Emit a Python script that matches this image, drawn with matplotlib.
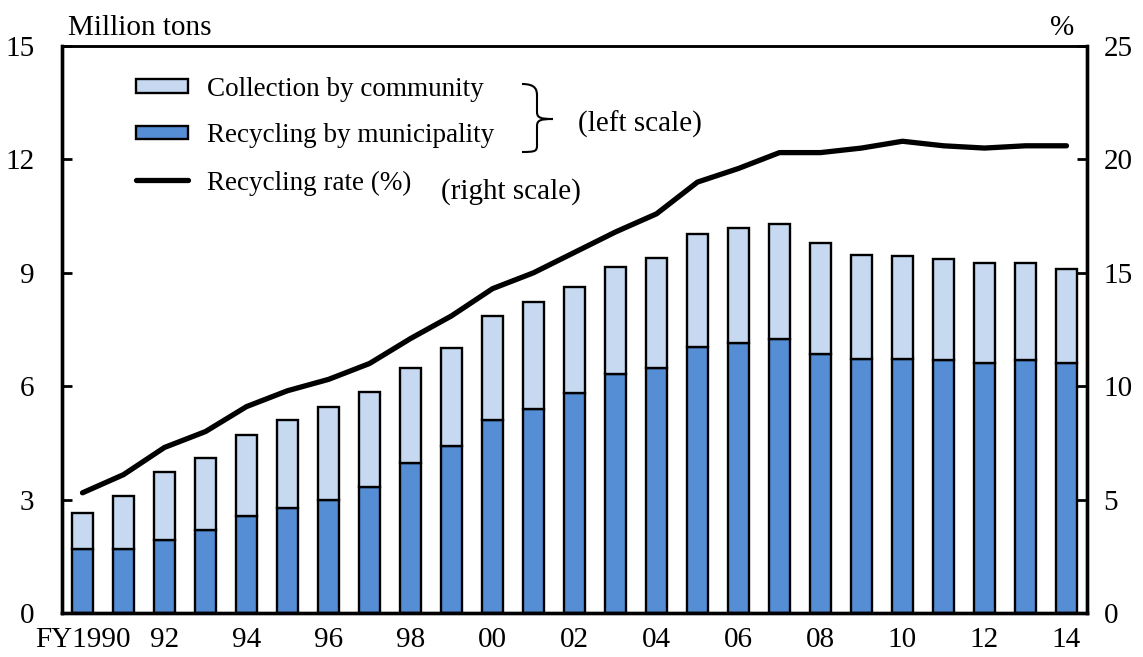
import matplotlib
matplotlib.use("Agg")
import matplotlib.pyplot as plt
from matplotlib.patches import Rectangle, PathPatch
from matplotlib.lines import Line2D
from matplotlib.path import Path

plt.rcParams['font.family'] = ['Liberation Serif', 'DejaVu Serif']

years = list(range(1990, 2015))
tick_labels = ["FY1990", "92", "94", "96", "98", "00", "02", "04",
               "06", "08", "10", "12", "14"]

# Million tons (left scale)
municipality = [1.69, 1.69, 1.93, 2.20, 2.57, 2.78, 2.99, 3.33, 3.97, 4.42,
                5.10, 5.40, 5.82, 6.32, 6.48, 7.04, 7.14, 7.25, 6.85, 6.72,
                6.72, 6.69, 6.61, 6.69, 6.61]
total = [2.65, 3.10, 3.73, 4.10, 4.71, 5.10, 5.45, 5.85, 6.48, 7.01,
         7.86, 8.23, 8.62, 9.15, 9.39, 10.03, 10.19, 10.29, 9.79, 9.47,
         9.44, 9.37, 9.26, 9.26, 9.10]
community = [t - m for t, m in zip(total, municipality)]

# Recycling rate, % (right scale)
rate = [5.3, 6.1, 7.3, 8.0, 9.1, 9.8, 10.3, 11.0, 12.1, 13.1,
        14.3, 15.0, 15.9, 16.8, 17.6, 19.0, 19.6, 20.3, 20.3, 20.5,
        20.8, 20.6, 20.5, 20.6, 20.6]

series_labels = ["Collection by community", "Recycling by municipality",
                 "Recycling rate (%)"]

LIGHT = "#C6D9F0"
BLUE = "#558ED5"
FS = 21
LEG_FS = 19.5
EDGE_W = 1.7
LINE_W = 3.8

fig = plt.figure(figsize=(11.43, 6.57), dpi=100)
ax = fig.add_axes([62 / 1143, 1 - 613 / 657, 1025 / 1143, 567 / 657])
x = list(range(len(years)))

ax.bar(x, municipality, width=0.5, color=BLUE, edgecolor="black",
       linewidth=EDGE_W, zorder=2)
ax.bar(x, community, bottom=municipality, width=0.5, color=LIGHT,
       edgecolor="black", linewidth=EDGE_W, zorder=2)

ax.set_xlim(-0.5, len(years) - 0.5)
ax.set_ylim(0, 15)
ax.set_yticks([0, 3, 6, 9, 12, 15])
ax.set_xticks(x[::2])
ax.set_xticklabels(tick_labels)
ax.tick_params(axis="x", length=0, pad=10, labelsize=FS)
ax.tick_params(axis="y", direction="in", length=7, width=2, pad=20, labelsize=FS)

ax2 = ax.twinx()
ax2.plot(x, rate, color="black", linewidth=LINE_W, solid_capstyle="round", zorder=3)
ax2.set_ylim(0, 25)
ax2.set_yticks([0, 5, 10, 15, 20, 25])
ax2.tick_params(axis="y", direction="in", length=7, width=2, pad=12, labelsize=FS)

for a in (ax, ax2):
    for side in ("left", "right", "bottom"):
        a.spines[side].set_linewidth(2.4)
    a.spines["top"].set_linewidth(1.8)

ax.text(0.006, 1.008, "Million tons", transform=ax.transAxes, fontsize=FS,
        ha="left", va="bottom")
ax.text(0.976, 1.008, "%", transform=ax.transAxes, fontsize=FS,
        ha="center", va="bottom")


def fx(px):
    return (px - 62) / 1025


def fy(py):
    return (613 - py) / 567


# Legend, laid out by hand in axes fraction coordinates
key_x0, key_x1 = fx(136), fx(188)
row_y = [fy(86), fy(132), fy(180)]
key_h = 13 / 567
for yc, face in zip(row_y[:2], [LIGHT, BLUE]):
    ax.add_patch(Rectangle((key_x0, yc - key_h / 2), key_x1 - key_x0, key_h,
                           transform=ax.transAxes, facecolor=face,
                           edgecolor="black", linewidth=EDGE_W, zorder=4))
ax.add_line(Line2D([key_x0, key_x1], [row_y[2], row_y[2]], transform=ax.transAxes,
                   color="black", linewidth=LINE_W, solid_capstyle="round", zorder=4))
for yc, lab in zip(row_y, series_labels):
    ax.text(fx(207), yc, lab, transform=ax.transAxes, fontsize=LEG_FS,
            ha="left", va="center_baseline")

# Curly brace grouping the two bar series
verts = [
    (fx(522), fy(84)),
    (fx(536), fy(84)), (fx(537), fy(90)), (fx(537), fy(96)),
    (fx(537), fy(112)),
    (fx(537), fy(118)), (fx(541), fy(119)), (fx(553), fy(119)),
    (fx(541), fy(119)), (fx(537), fy(120)), (fx(537), fy(126)),
    (fx(537), fy(145)),
    (fx(537), fy(151)), (fx(536), fy(152)), (fx(522), fy(152)),
]
codes = [Path.MOVETO,
         Path.CURVE4, Path.CURVE4, Path.CURVE4,
         Path.LINETO,
         Path.CURVE4, Path.CURVE4, Path.CURVE4,
         Path.CURVE4, Path.CURVE4, Path.CURVE4,
         Path.LINETO,
         Path.CURVE4, Path.CURVE4, Path.CURVE4]
ax.add_patch(PathPatch(Path(verts, codes), transform=ax.transAxes, facecolor="none",
                       edgecolor="black", linewidth=1.5, clip_on=False))

ax.text(fx(578), fy(121), "(left scale)", transform=ax.transAxes, fontsize=FS,
        ha="left", va="center_baseline")
ax.text(fx(441), fy(188), "(right scale)", transform=ax.transAxes, fontsize=FS,
        ha="left", va="center_baseline")

fig.savefig("out.png", dpi=100)
